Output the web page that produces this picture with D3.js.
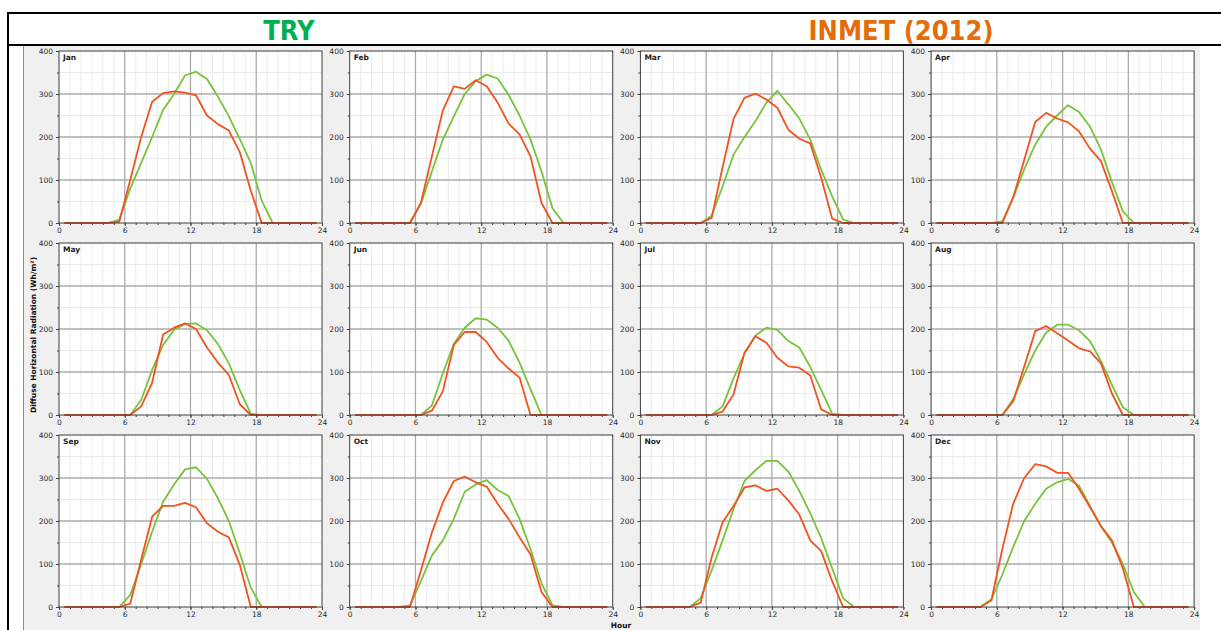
<!DOCTYPE html>
<html><head><meta charset="utf-8">
<script src="https://cdn.jsdelivr.net/npm/d3@7"></script>
<style>
html,body{margin:0;padding:0;background:#fff;}
svg{display:block;font-family:"DejaVu Sans",Verdana,sans-serif;}
</style></head><body>
<svg id="chart" width="1221" height="630"></svg>
<script>
// Monthly mean daily profiles of diffuse horizontal radiation (Wh/m²), hours 0.5 … 23.5
const MONTHS = ["Jan","Feb","Mar","Apr","May","Jun","Jul","Aug","Sep","Oct","Nov","Dec"];
const HOURS = d3.range(24).map(h => h + 0.5);
const X_TICKS = [0, 6, 12, 18, 24];
const Y_TICKS = [0, 100, 200, 300, 400];

const TRY_JAN = [0,0,0,0,0,8,80,140,200,263,300,343,352,335,294,248,195,140,52,0,0,0,0,0];
const TRY_FEB = [0,0,0,0,0,0,45,120,194,248,300,330,345,336,298,250,194,120,35,0,0,0,0,0];
const TRY_MAR = [0,0,0,0,0,0,17,85,159,200,237,280,307,276,243,194,124,62,8,0,0,0,0,0];
const TRY_APR = [0,0,0,0,0,0,4,60,125,182,224,250,274,258,224,171,95,27,0,0,0,0,0,0];
const TRY_MAY = [0,0,0,0,0,0,0,35,105,163,198,212,213,197,165,120,58,3,0,0,0,0,0,0];
const TRY_JUN = [0,0,0,0,0,0,0,22,97,165,203,225,222,203,173,122,60,0,0,0,0,0,0,0];
const TRY_JUL = [0,0,0,0,0,0,0,20,85,143,185,203,198,172,157,112,58,3,0,0,0,0,0,0];
const TRY_AUG = [0,0,0,0,0,0,0,37,95,150,192,210,210,197,172,125,70,18,0,0,0,0,0,0];
const TRY_SEP = [0,0,0,0,0,0,28,100,175,245,285,320,325,298,253,200,125,45,0,0,0,0,0,0];
const TRY_OCT = [0,0,0,0,0,4,60,120,155,205,268,285,295,272,258,205,135,55,4,0,0,0,0,0];
const TRY_NOV = [0,0,0,0,0,20,85,155,228,293,318,340,340,315,270,218,160,90,20,0,0,0,0,0];
const TRY_DEC = [0,0,0,0,0,18,75,140,200,240,275,290,298,282,235,188,150,100,35,0,0,0,0,0];

const INMET_JAN = [0,0,0,0,0,3,100,200,282,302,306,303,297,250,230,215,165,75,0,0,0,0,0,0];
const INMET_FEB = [0,0,0,0,0,0,47,155,262,318,312,332,318,280,231,206,155,47,0,0,0,0,0,0];
const INMET_MAR = [0,0,0,0,0,0,12,130,242,291,301,287,268,217,196,185,105,10,0,0,0,0,0,0];
const INMET_APR = [0,0,0,0,0,0,0,60,147,235,256,243,234,213,173,144,74,0,0,0,0,0,0,0];
const INMET_MAY = [0,0,0,0,0,0,0,20,75,187,203,213,200,157,122,93,25,0,0,0,0,0,0,0];
const INMET_JUN = [0,0,0,0,0,0,0,10,55,163,193,193,170,133,108,87,0,0,0,0,0,0,0,0];
const INMET_JUL = [0,0,0,0,0,0,0,8,48,145,183,168,133,113,110,92,13,0,0,0,0,0,0,0];
const INMET_AUG = [0,0,0,0,0,0,0,32,113,195,207,190,173,155,148,120,50,0,0,0,0,0,0,0];
const INMET_SEP = [0,0,0,0,0,0,8,110,210,235,235,242,232,195,175,162,98,0,0,0,0,0,0,0];
const INMET_OCT = [0,0,0,0,0,0,85,173,243,293,303,290,280,240,205,162,122,35,0,0,0,0,0,0];
const INMET_NOV = [0,0,0,0,0,10,115,197,235,278,283,270,275,248,215,155,130,60,0,0,0,0,0,0];
const INMET_DEC = [0,0,0,0,0,15,135,241,300,332,327,312,312,275,232,188,155,90,0,0,0,0,0,0];

const TRY_SERIES = [TRY_JAN,TRY_FEB,TRY_MAR,TRY_APR,TRY_MAY,TRY_JUN,TRY_JUL,TRY_AUG,TRY_SEP,TRY_OCT,TRY_NOV,TRY_DEC];
const INMET_SERIES = [INMET_JAN,INMET_FEB,INMET_MAR,INMET_APR,INMET_MAY,INMET_JUN,INMET_JUL,INMET_AUG,INMET_SEP,INMET_OCT,INMET_NOV,INMET_DEC];

const HEADER_LEFT = "TRY";
const HEADER_RIGHT = "INMET (2012)";
const Y_TITLE = "Diffuse Horizontal Radiation (Wh/m²)";
const X_TITLE = "Hour";

const COLOR_TRY = "#78c33c";
const COLOR_INMET = "#f2521f";

const svg = d3.select("#chart");

// ---- table frame and header row ----
svg.append("rect").attr("x", 23).attr("y", 46).attr("width", 1177).attr("height", 584).attr("fill", "#f0f0f0");
svg.append("line").attr("x1", 23.5).attr("x2", 23.5).attr("y1", 46).attr("y2", 630).attr("stroke", "#8c8c8c").attr("stroke-width", 1);

svg.append("line").attr("x1", 7).attr("x2", 1221).attr("y1", 13).attr("y2", 13).attr("stroke", "#000").attr("stroke-width", 2);
svg.append("line").attr("x1", 7).attr("x2", 1221).attr("y1", 45).attr("y2", 45).attr("stroke", "#000").attr("stroke-width", 2);
svg.append("line").attr("x1", 8).attr("x2", 8).attr("y1", 12).attr("y2", 630).attr("stroke", "#000").attr("stroke-width", 2);

svg.append("text").attr("x", 289).attr("y", 40).attr("text-anchor", "middle")
  .attr("font-family", "'DejaVu Sans Condensed','DejaVu Sans',sans-serif").attr("font-stretch", "condensed")
  .attr("font-weight", "bold").attr("font-size", 27).attr("fill", "#00b050").text(HEADER_LEFT);
svg.append("text").attr("x", 901).attr("y", 40).attr("text-anchor", "middle")
  .attr("font-family", "'DejaVu Sans Condensed','DejaVu Sans',sans-serif").attr("font-stretch", "condensed")
  .attr("font-weight", "bold").attr("font-size", 27).attr("fill", "#e46c0a").text(HEADER_RIGHT);

// ---- small multiples ----
const PW = 263, PH = 172;
const colX = c => 59 + c * 290.7;
const rowY = r => 51 + r * 192;

const x = d3.scaleLinear().domain([0, 24]).range([0, PW]);
const y = d3.scaleLinear().domain([0, 400]).range([PH, 0]);

const line = d3.line().x(d => x(d[0])).y(d => y(d[1]));

MONTHS.forEach((m, i) => {
  const c = i % 4, r = Math.floor(i / 4);
  const g = svg.append("g").attr("transform", `translate(${colX(c)},${rowY(r)})`);

  g.append("rect").attr("width", PW).attr("height", PH).attr("fill", "#fff");

  // minor grid
  g.append("g").selectAll("line").data(d3.range(1, 24).filter(h => h % 6 !== 0)).join("line")
    .attr("x1", h => x(h)).attr("x2", h => x(h)).attr("y1", 0).attr("y2", PH)
    .attr("stroke", "#ebebeb").attr("stroke-width", 1);
  g.append("g").selectAll("line").data([50, 150, 250, 350]).join("line")
    .attr("x1", 0).attr("x2", PW).attr("y1", v => y(v)).attr("y2", v => y(v))
    .attr("stroke", "#ebebeb").attr("stroke-width", 1);

  // major grid
  g.append("g").selectAll("line").data([6, 12, 18]).join("line")
    .attr("x1", h => x(h)).attr("x2", h => x(h)).attr("y1", 0).attr("y2", PH)
    .attr("stroke", "#ababab").attr("stroke-width", 1.3);
  g.append("g").selectAll("line").data([100, 200, 300]).join("line")
    .attr("x1", 0).attr("x2", PW).attr("y1", v => y(v)).attr("y2", v => y(v))
    .attr("stroke", "#ababab").attr("stroke-width", 1.3);

  // minor ticks
  g.append("g").attr("transform", `translate(0,${PH})`)
    .call(d3.axisBottom(x).tickValues(d3.range(0, 25)).tickSize(2).tickFormat(""))
    .call(a => a.select(".domain").remove())
    .selectAll("line").attr("stroke", "#404040");
  g.append("g")
    .call(d3.axisLeft(y).tickValues(d3.range(0, 401, 50)).tickSize(2).tickFormat(""))
    .call(a => a.select(".domain").remove())
    .selectAll("line").attr("stroke", "#404040");

  // series (TRY underneath, INMET on top)
  g.append("path").datum(HOURS.map((h, k) => [h, TRY_SERIES[i][k]]))
    .attr("d", line).attr("fill", "none").attr("stroke", COLOR_TRY).attr("stroke-width", 1.8)
    .attr("stroke-linejoin", "round");
  g.append("path").datum(HOURS.map((h, k) => [h, INMET_SERIES[i][k]]))
    .attr("d", line).attr("fill", "none").attr("stroke", COLOR_INMET).attr("stroke-width", 1.8)
    .attr("stroke-linejoin", "round");

  // frame
  g.append("rect").attr("width", PW).attr("height", PH).attr("fill", "none")
    .attr("stroke", "#3c3c3c").attr("stroke-width", 1);

  // axes with labels
  const xa = g.append("g").attr("transform", `translate(0,${PH})`)
    .call(d3.axisBottom(x).tickValues(X_TICKS).tickSize(3).tickPadding(2));
  const ya = g.append("g")
    .call(d3.axisLeft(y).tickValues(Y_TICKS).tickSize(3).tickPadding(3));
  [xa, ya].forEach(a => {
    a.select(".domain").remove();
    a.selectAll("line").attr("stroke", "#404040");
    a.selectAll("text").attr("font-size", 7.5).attr("fill", "#2a2a2a")
      .attr("font-family", "'DejaVu Sans',Verdana,sans-serif");
  });

  g.append("text").attr("x", 4).attr("y", 9).attr("font-size", 7.5).attr("font-weight", "bold")
    .attr("fill", "#222").text(m);
});

// axis titles
svg.append("text").attr("transform", "translate(36,335) rotate(-90)").attr("text-anchor", "middle")
  .attr("font-size", 7.5).attr("font-weight", "bold").attr("fill", "#111").text(Y_TITLE);
svg.append("text").attr("x", 621).attr("y", 628).attr("text-anchor", "middle")
  .attr("font-size", 7.5).attr("font-weight", "bold").attr("fill", "#111").text(X_TITLE);
</script>
</body></html>
